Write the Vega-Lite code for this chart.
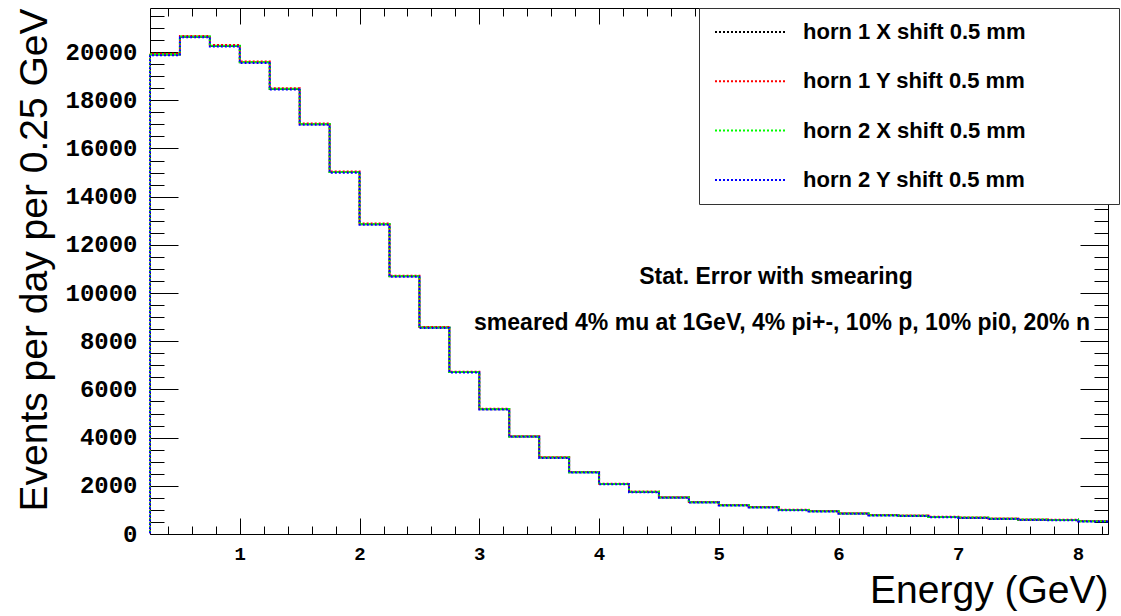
{
  "$schema": "https://vega.github.io/schema/vega-lite/v6.json",
  "width": 958,
  "height": 526,
  "autosize": {"type": "none"},
  "padding": {"left": 150, "top": 8, "right": 13, "bottom": 82},
  "background": "white",
  "config": {
    "view": {"stroke": "black", "strokeWidth": 1},
    "axis": {"grid": false, "domain": false, "tickColor": "black", "tickWidth": 1, "labelColor": "black", "titleColor": "black"}
  },
  "data": {"values": [
    {"s":"horn 1 X shift 0.5 mm","lo":0.25,"hi":0.5,"v":19900},
    {"s":"horn 1 X shift 0.5 mm","lo":0.5,"hi":0.75,"v":20640},
    {"s":"horn 1 X shift 0.5 mm","lo":0.75,"hi":1,"v":20255},
    {"s":"horn 1 X shift 0.5 mm","lo":1,"hi":1.25,"v":19580},
    {"s":"horn 1 X shift 0.5 mm","lo":1.25,"hi":1.5,"v":18470},
    {"s":"horn 1 X shift 0.5 mm","lo":1.5,"hi":1.75,"v":17010},
    {"s":"horn 1 X shift 0.5 mm","lo":1.75,"hi":2,"v":15020},
    {"s":"horn 1 X shift 0.5 mm","lo":2,"hi":2.25,"v":12860},
    {"s":"horn 1 X shift 0.5 mm","lo":2.25,"hi":2.5,"v":10700},
    {"s":"horn 1 X shift 0.5 mm","lo":2.5,"hi":2.75,"v":8570},
    {"s":"horn 1 X shift 0.5 mm","lo":2.75,"hi":3,"v":6720},
    {"s":"horn 1 X shift 0.5 mm","lo":3,"hi":3.25,"v":5180},
    {"s":"horn 1 X shift 0.5 mm","lo":3.25,"hi":3.5,"v":4045},
    {"s":"horn 1 X shift 0.5 mm","lo":3.5,"hi":3.75,"v":3170},
    {"s":"horn 1 X shift 0.5 mm","lo":3.75,"hi":4,"v":2565},
    {"s":"horn 1 X shift 0.5 mm","lo":4,"hi":4.25,"v":2078},
    {"s":"horn 1 X shift 0.5 mm","lo":4.25,"hi":4.5,"v":1748},
    {"s":"horn 1 X shift 0.5 mm","lo":4.5,"hi":4.75,"v":1512},
    {"s":"horn 1 X shift 0.5 mm","lo":4.75,"hi":5,"v":1318},
    {"s":"horn 1 X shift 0.5 mm","lo":5,"hi":5.25,"v":1195},
    {"s":"horn 1 X shift 0.5 mm","lo":5.25,"hi":5.5,"v":1108},
    {"s":"horn 1 X shift 0.5 mm","lo":5.5,"hi":5.75,"v":998},
    {"s":"horn 1 X shift 0.5 mm","lo":5.75,"hi":6,"v":942},
    {"s":"horn 1 X shift 0.5 mm","lo":6,"hi":6.25,"v":848},
    {"s":"horn 1 X shift 0.5 mm","lo":6.25,"hi":6.5,"v":778},
    {"s":"horn 1 X shift 0.5 mm","lo":6.5,"hi":6.75,"v":760},
    {"s":"horn 1 X shift 0.5 mm","lo":6.75,"hi":7,"v":706},
    {"s":"horn 1 X shift 0.5 mm","lo":7,"hi":7.25,"v":678},
    {"s":"horn 1 X shift 0.5 mm","lo":7.25,"hi":7.5,"v":636},
    {"s":"horn 1 X shift 0.5 mm","lo":7.5,"hi":7.75,"v":596},
    {"s":"horn 1 X shift 0.5 mm","lo":7.75,"hi":8,"v":582},
    {"s":"horn 1 X shift 0.5 mm","lo":8,"hi":8.25,"v":530},
    {"s":"horn 1 Y shift 0.5 mm","lo":0.25,"hi":0.5,"v":19935},
    {"s":"horn 1 Y shift 0.5 mm","lo":0.5,"hi":0.75,"v":20672},
    {"s":"horn 1 Y shift 0.5 mm","lo":0.75,"hi":1,"v":20290},
    {"s":"horn 1 Y shift 0.5 mm","lo":1,"hi":1.25,"v":19612},
    {"s":"horn 1 Y shift 0.5 mm","lo":1.25,"hi":1.5,"v":18498},
    {"s":"horn 1 Y shift 0.5 mm","lo":1.5,"hi":1.75,"v":17040},
    {"s":"horn 1 Y shift 0.5 mm","lo":1.75,"hi":2,"v":15046},
    {"s":"horn 1 Y shift 0.5 mm","lo":2,"hi":2.25,"v":12885},
    {"s":"horn 1 Y shift 0.5 mm","lo":2.25,"hi":2.5,"v":10722},
    {"s":"horn 1 Y shift 0.5 mm","lo":2.5,"hi":2.75,"v":8590},
    {"s":"horn 1 Y shift 0.5 mm","lo":2.75,"hi":3,"v":6738},
    {"s":"horn 1 Y shift 0.5 mm","lo":3,"hi":3.25,"v":5196},
    {"s":"horn 1 Y shift 0.5 mm","lo":3.25,"hi":3.5,"v":4060},
    {"s":"horn 1 Y shift 0.5 mm","lo":3.5,"hi":3.75,"v":3183},
    {"s":"horn 1 Y shift 0.5 mm","lo":3.75,"hi":4,"v":2578},
    {"s":"horn 1 Y shift 0.5 mm","lo":4,"hi":4.25,"v":2090},
    {"s":"horn 1 Y shift 0.5 mm","lo":4.25,"hi":4.5,"v":1760},
    {"s":"horn 1 Y shift 0.5 mm","lo":4.5,"hi":4.75,"v":1524},
    {"s":"horn 1 Y shift 0.5 mm","lo":4.75,"hi":5,"v":1330},
    {"s":"horn 1 Y shift 0.5 mm","lo":5,"hi":5.25,"v":1206},
    {"s":"horn 1 Y shift 0.5 mm","lo":5.25,"hi":5.5,"v":1118},
    {"s":"horn 1 Y shift 0.5 mm","lo":5.5,"hi":5.75,"v":1009},
    {"s":"horn 1 Y shift 0.5 mm","lo":5.75,"hi":6,"v":952},
    {"s":"horn 1 Y shift 0.5 mm","lo":6,"hi":6.25,"v":858},
    {"s":"horn 1 Y shift 0.5 mm","lo":6.25,"hi":6.5,"v":788},
    {"s":"horn 1 Y shift 0.5 mm","lo":6.5,"hi":6.75,"v":770},
    {"s":"horn 1 Y shift 0.5 mm","lo":6.75,"hi":7,"v":716},
    {"s":"horn 1 Y shift 0.5 mm","lo":7,"hi":7.25,"v":688},
    {"s":"horn 1 Y shift 0.5 mm","lo":7.25,"hi":7.5,"v":646},
    {"s":"horn 1 Y shift 0.5 mm","lo":7.5,"hi":7.75,"v":606},
    {"s":"horn 1 Y shift 0.5 mm","lo":7.75,"hi":8,"v":592},
    {"s":"horn 1 Y shift 0.5 mm","lo":8,"hi":8.25,"v":540},
    {"s":"horn 2 X shift 0.5 mm","lo":0.25,"hi":0.5,"v":19908},
    {"s":"horn 2 X shift 0.5 mm","lo":0.5,"hi":0.75,"v":20645},
    {"s":"horn 2 X shift 0.5 mm","lo":0.75,"hi":1,"v":20262},
    {"s":"horn 2 X shift 0.5 mm","lo":1,"hi":1.25,"v":19586},
    {"s":"horn 2 X shift 0.5 mm","lo":1.25,"hi":1.5,"v":18474},
    {"s":"horn 2 X shift 0.5 mm","lo":1.5,"hi":1.75,"v":17016},
    {"s":"horn 2 X shift 0.5 mm","lo":1.75,"hi":2,"v":15022},
    {"s":"horn 2 X shift 0.5 mm","lo":2,"hi":2.25,"v":12864},
    {"s":"horn 2 X shift 0.5 mm","lo":2.25,"hi":2.5,"v":10705},
    {"s":"horn 2 X shift 0.5 mm","lo":2.5,"hi":2.75,"v":8573},
    {"s":"horn 2 X shift 0.5 mm","lo":2.75,"hi":3,"v":6722},
    {"s":"horn 2 X shift 0.5 mm","lo":3,"hi":3.25,"v":5184},
    {"s":"horn 2 X shift 0.5 mm","lo":3.25,"hi":3.5,"v":4047},
    {"s":"horn 2 X shift 0.5 mm","lo":3.5,"hi":3.75,"v":3173},
    {"s":"horn 2 X shift 0.5 mm","lo":3.75,"hi":4,"v":2567},
    {"s":"horn 2 X shift 0.5 mm","lo":4,"hi":4.25,"v":2080},
    {"s":"horn 2 X shift 0.5 mm","lo":4.25,"hi":4.5,"v":1750},
    {"s":"horn 2 X shift 0.5 mm","lo":4.5,"hi":4.75,"v":1514},
    {"s":"horn 2 X shift 0.5 mm","lo":4.75,"hi":5,"v":1320},
    {"s":"horn 2 X shift 0.5 mm","lo":5,"hi":5.25,"v":1197},
    {"s":"horn 2 X shift 0.5 mm","lo":5.25,"hi":5.5,"v":1110},
    {"s":"horn 2 X shift 0.5 mm","lo":5.5,"hi":5.75,"v":1000},
    {"s":"horn 2 X shift 0.5 mm","lo":5.75,"hi":6,"v":944},
    {"s":"horn 2 X shift 0.5 mm","lo":6,"hi":6.25,"v":850},
    {"s":"horn 2 X shift 0.5 mm","lo":6.25,"hi":6.5,"v":780},
    {"s":"horn 2 X shift 0.5 mm","lo":6.5,"hi":6.75,"v":762},
    {"s":"horn 2 X shift 0.5 mm","lo":6.75,"hi":7,"v":708},
    {"s":"horn 2 X shift 0.5 mm","lo":7,"hi":7.25,"v":680},
    {"s":"horn 2 X shift 0.5 mm","lo":7.25,"hi":7.5,"v":638},
    {"s":"horn 2 X shift 0.5 mm","lo":7.5,"hi":7.75,"v":598},
    {"s":"horn 2 X shift 0.5 mm","lo":7.75,"hi":8,"v":584},
    {"s":"horn 2 X shift 0.5 mm","lo":8,"hi":8.25,"v":532},
    {"s":"horn 2 Y shift 0.5 mm","lo":0.25,"hi":0.5,"v":19870},
    {"s":"horn 2 Y shift 0.5 mm","lo":0.5,"hi":0.75,"v":20612},
    {"s":"horn 2 Y shift 0.5 mm","lo":0.75,"hi":1,"v":20228},
    {"s":"horn 2 Y shift 0.5 mm","lo":1,"hi":1.25,"v":19552},
    {"s":"horn 2 Y shift 0.5 mm","lo":1.25,"hi":1.5,"v":18444},
    {"s":"horn 2 Y shift 0.5 mm","lo":1.5,"hi":1.75,"v":16985},
    {"s":"horn 2 Y shift 0.5 mm","lo":1.75,"hi":2,"v":14996},
    {"s":"horn 2 Y shift 0.5 mm","lo":2,"hi":2.25,"v":12838},
    {"s":"horn 2 Y shift 0.5 mm","lo":2.25,"hi":2.5,"v":10680},
    {"s":"horn 2 Y shift 0.5 mm","lo":2.5,"hi":2.75,"v":8552},
    {"s":"horn 2 Y shift 0.5 mm","lo":2.75,"hi":3,"v":6703},
    {"s":"horn 2 Y shift 0.5 mm","lo":3,"hi":3.25,"v":5166},
    {"s":"horn 2 Y shift 0.5 mm","lo":3.25,"hi":3.5,"v":4032},
    {"s":"horn 2 Y shift 0.5 mm","lo":3.5,"hi":3.75,"v":3158},
    {"s":"horn 2 Y shift 0.5 mm","lo":3.75,"hi":4,"v":2553},
    {"s":"horn 2 Y shift 0.5 mm","lo":4,"hi":4.25,"v":2066},
    {"s":"horn 2 Y shift 0.5 mm","lo":4.25,"hi":4.5,"v":1736},
    {"s":"horn 2 Y shift 0.5 mm","lo":4.5,"hi":4.75,"v":1500},
    {"s":"horn 2 Y shift 0.5 mm","lo":4.75,"hi":5,"v":1306},
    {"s":"horn 2 Y shift 0.5 mm","lo":5,"hi":5.25,"v":1184},
    {"s":"horn 2 Y shift 0.5 mm","lo":5.25,"hi":5.5,"v":1097},
    {"s":"horn 2 Y shift 0.5 mm","lo":5.5,"hi":5.75,"v":988},
    {"s":"horn 2 Y shift 0.5 mm","lo":5.75,"hi":6,"v":932},
    {"s":"horn 2 Y shift 0.5 mm","lo":6,"hi":6.25,"v":838},
    {"s":"horn 2 Y shift 0.5 mm","lo":6.25,"hi":6.5,"v":768},
    {"s":"horn 2 Y shift 0.5 mm","lo":6.5,"hi":6.75,"v":750},
    {"s":"horn 2 Y shift 0.5 mm","lo":6.75,"hi":7,"v":696},
    {"s":"horn 2 Y shift 0.5 mm","lo":7,"hi":7.25,"v":668},
    {"s":"horn 2 Y shift 0.5 mm","lo":7.25,"hi":7.5,"v":626},
    {"s":"horn 2 Y shift 0.5 mm","lo":7.5,"hi":7.75,"v":586},
    {"s":"horn 2 Y shift 0.5 mm","lo":7.75,"hi":8,"v":572},
    {"s":"horn 2 Y shift 0.5 mm","lo":8,"hi":8.25,"v":520}
  ]},
  "resolve": {
    "scale": {"x": "shared", "y": "shared", "color": "shared"},
    "axis": {"x": "independent", "y": "independent"}
  },
  "layer": [
    {
      "transform": [{"filter": "datum.s == 'horn 1 X shift 0.5 mm'"}, {"fold": ["lo", "hi"], "as": ["edge", "E"]}],
      "mark": {"type": "line", "strokeWidth": 2, "strokeDash": [2, 2], "strokeDashOffset": 0},
      "encoding": {
        "x": {"field": "E", "type": "quantitative", "scale": {"domain": [0.25, 8.25], "nice": false, "zero": false},
          "axis": {"orient": "bottom", "values": [1, 2, 3, 4, 5, 6, 7, 8], "format": "d", "tickSize": -16,
            "labelFont": "Liberation Mono", "labelFontWeight": "bold", "labelFontSize": 19, "labelPadding": 26,
            "title": "Energy (GeV)", "titleFont": "Liberation Sans", "titleFontSize": 39, "titleFontWeight": "normal",
            "titleAnchor": "end", "titlePadding": 8}},
        "y": {"field": "v", "type": "quantitative", "scale": {"domain": [0, 21830], "nice": false, "zero": true},
          "axis": {"orient": "left", "values": [0, 2000, 4000, 6000, 8000, 10000, 12000, 14000, 16000, 18000, 20000], "format": "d", "tickSize": -28,
            "labelFont": "Liberation Mono", "labelFontWeight": "bold", "labelFontSize": 24, "labelPadding": 41,
            "title": "Events per day per 0.25 GeV", "titleFont": "Liberation Sans", "titleFontSize": 39, "titleFontWeight": "normal",
            "titleAnchor": "end", "titlePadding": 10}},
        "color": {"field": "s", "type": "nominal",
          "scale": {"domain": ["horn 1 X shift 0.5 mm", "horn 1 Y shift 0.5 mm", "horn 2 X shift 0.5 mm", "horn 2 Y shift 0.5 mm"], "range": ["#000000", "#ff0000", "#00ff00", "#0000ff"]},
          "legend": {"orient": "none", "legendX": 549, "legendY": 0, "title": null, "fillColor": "white", "strokeColor": "#333333", "padding": 13,
            "symbolType": "stroke", "symbolSize": 5184, "symbolStrokeWidth": 2, "symbolDash": [2, 2], "clipHeight": 22, "rowPadding": 27.3,
            "symbolOffset": 2, "labelOffset": 15, "labelFont": "Liberation Sans", "labelFontWeight": "bold", "labelFontSize": 22, "labelColor": "black", "labelLimit": 600,
            "labelExpr": "datum.label + '\u2800\u2800\u2800\u2800\u2800'"}},
        "order": [{"field": "lo", "type": "quantitative"}, {"field": "edge", "type": "ordinal", "sort": "descending"}]
      }
    },
    {
      "transform": [{"filter": "datum.s == 'horn 1 Y shift 0.5 mm'"}, {"fold": ["lo", "hi"], "as": ["edge", "E"]}],
      "mark": {"type": "line", "strokeWidth": 2, "strokeDash": [2, 2], "strokeDashOffset": 2},
      "encoding": {
        "x": {"field": "E", "type": "quantitative",
          "axis": {"orient": "bottom", "values": [0.4, 0.6, 0.8, 1.2, 1.4, 1.6, 1.8, 2.2, 2.4, 2.6, 2.8, 3.2, 3.4, 3.6, 3.8, 4.2, 4.4, 4.6, 4.8, 5.2, 5.4, 5.6, 5.8, 6.2, 6.4, 6.6, 6.8, 7.2, 7.4, 7.6, 7.8, 8.2], "tickSize": -8, "labels": false, "title": null}},
        "y": {"field": "v", "type": "quantitative",
          "axis": {"orient": "left", "values": [500, 1000, 1500, 2500, 3000, 3500, 4500, 5000, 5500, 6500, 7000, 7500, 8500, 9000, 9500, 10500, 11000, 11500, 12500, 13000, 13500, 14500, 15000, 15500, 16500, 17000, 17500, 18500, 19000, 19500, 20500, 21000, 21500], "tickSize": -14, "labels": false, "title": null}},
        "color": {"field": "s", "type": "nominal"},
        "order": [{"field": "lo", "type": "quantitative"}, {"field": "edge", "type": "ordinal", "sort": "descending"}]
      }
    },
    {
      "transform": [{"filter": "datum.s == 'horn 2 X shift 0.5 mm'"}, {"fold": ["lo", "hi"], "as": ["edge", "E"]}],
      "mark": {"type": "line", "strokeWidth": 2, "strokeDash": [2, 2], "strokeDashOffset": 0},
      "encoding": {
        "x": {"field": "E", "type": "quantitative",
          "axis": {"orient": "top", "values": [1, 2, 3, 4, 5, 6, 7, 8], "tickSize": -16, "labels": false, "title": null}},
        "y": {"field": "v", "type": "quantitative",
          "axis": {"orient": "right", "values": [0, 2000, 4000, 6000, 8000, 10000, 12000, 14000, 16000, 18000, 20000], "tickSize": -28, "labels": false, "title": null}},
        "color": {"field": "s", "type": "nominal"},
        "order": [{"field": "lo", "type": "quantitative"}, {"field": "edge", "type": "ordinal", "sort": "descending"}]
      }
    },
    {
      "transform": [{"filter": "datum.s == 'horn 2 Y shift 0.5 mm'"}, {"fold": ["lo", "hi"], "as": ["edge", "E"]}],
      "mark": {"type": "line", "strokeWidth": 2, "strokeDash": [2, 2], "strokeDashOffset": 2},
      "encoding": {
        "x": {"field": "E", "type": "quantitative",
          "axis": {"orient": "top", "values": [0.4, 0.6, 0.8, 1.2, 1.4, 1.6, 1.8, 2.2, 2.4, 2.6, 2.8, 3.2, 3.4, 3.6, 3.8, 4.2, 4.4, 4.6, 4.8, 5.2, 5.4, 5.6, 5.8, 6.2, 6.4, 6.6, 6.8, 7.2, 7.4, 7.6, 7.8, 8.2], "tickSize": -8, "labels": false, "title": null}},
        "y": {"field": "v", "type": "quantitative",
          "axis": {"orient": "right", "values": [500, 1000, 1500, 2500, 3000, 3500, 4500, 5000, 5500, 6500, 7000, 7500, 8500, 9000, 9500, 10500, 11000, 11500, 12500, 13000, 13500, 14500, 15000, 15500, 16500, 17000, 17500, 18500, 19000, 19500, 20500, 21000, 21500], "tickSize": -14, "labels": false, "title": null}},
        "color": {"field": "s", "type": "nominal"},
        "order": [{"field": "lo", "type": "quantitative"}, {"field": "edge", "type": "ordinal", "sort": "descending"}]
      }
    },
    {
      "transform": [{"filter": "datum.lo == 0.25"}],
      "mark": {"type": "rule", "strokeWidth": 2, "strokeDash": [2, 2]},
      "encoding": {
        "x": {"field": "lo", "type": "quantitative", "axis": null},
        "y": {"field": "v", "type": "quantitative", "axis": null},
        "y2": {"datum": 0},
        "color": {"field": "s", "type": "nominal"}
      }
    },
    {
      "data": {"values": [{"note": "Stat. Error with smearing"}]},
      "mark": {"type": "text", "font": "Liberation Sans", "fontWeight": "bold", "fontSize": 23, "color": "black", "align": "center", "baseline": "middle"},
      "encoding": {
        "x": {"datum": 5.477, "type": "quantitative", "axis": null},
        "y": {"datum": 10666, "type": "quantitative", "axis": null},
        "text": {"field": "note", "type": "nominal"}
      }
    },
    {
      "data": {"values": [{"note": "smeared 4% mu at 1GeV, 4% pi+-, 10% p, 10% pi0, 20% n"}]},
      "mark": {"type": "text", "font": "Liberation Sans", "fontWeight": "bold", "fontSize": 23, "color": "black", "align": "center", "baseline": "middle"},
      "encoding": {
        "x": {"datum": 5.528, "type": "quantitative", "axis": null},
        "y": {"datum": 8757, "type": "quantitative", "axis": null},
        "text": {"field": "note", "type": "nominal"}
      }
    }
  ]
}
